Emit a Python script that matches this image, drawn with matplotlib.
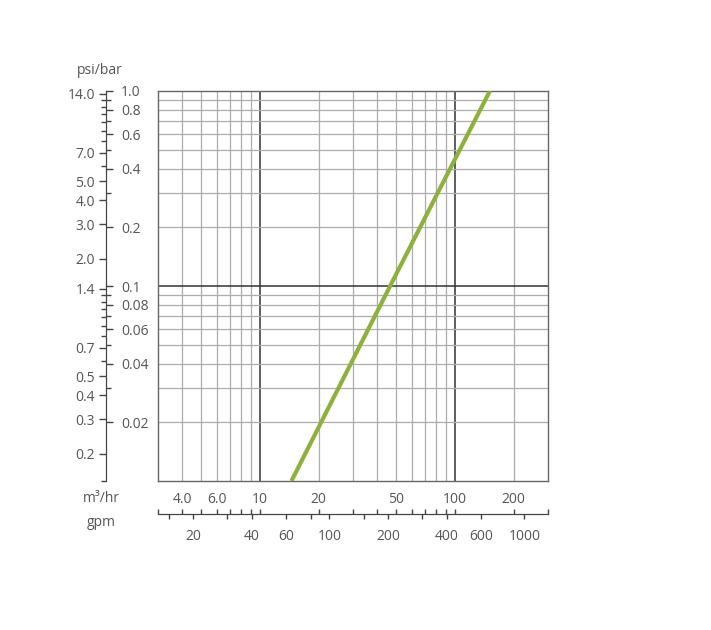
import matplotlib
matplotlib.use("Agg")
import matplotlib.pyplot as plt
from matplotlib.ticker import NullFormatter

plt.rcParams['font.family'] = ['Open Sans', 'DejaVu Sans']

# pressure drop curve (flow in m3/hr, drop in bar)
flow_m3h = [14.5, 46.5, 151]
drop_bar = [0.01, 0.1, 1.0]

# left scale: bar + psi
bar_major = [1.0, 0.8, 0.6, 0.4, 0.2, 0.1, 0.08, 0.06, 0.04, 0.02]
bar_labels = ['1.0', '0.8', '0.6', '0.4', '0.2', '0.1', '0.08', '0.06', '0.04', '0.02']
bar_minor = [0.9, 0.7, 0.5, 0.3, 0.09, 0.07, 0.05, 0.03]
psi_major = [14.0, 7.0, 5.0, 4.0, 3.0, 2.0, 1.4, 0.7, 0.5, 0.4, 0.3, 0.2]
psi_labels = ['14.0', '7.0', '5.0', '4.0', '3.0', '2.0', '1.4', '0.7', '0.5', '0.4', '0.3', '0.2']
psi_minor = [13, 12, 11, 10, 9, 8, 6, 1.3, 1.2, 1.1, 1.0, 0.9, 0.8, 0.6, 0.145]

# bottom scale: m3/hr + gpm
m3h_major = [4.0, 6.0, 10, 20, 50, 100, 200]
m3h_labels = ['4.0', '6.0', '10', '20', '50', '100', '200']
m3h_minor = [3, 5, 7, 8, 9, 30, 40, 60, 70, 80, 90, 300]
gpm_major = [20, 40, 60, 100, 200, 400, 600, 1000]
gpm_labels = ['20', '40', '60', '100', '200', '400', '600', '1000']
gpm_minor = [15, 30, 80, 150, 300]

PSI_PER_BAR = 14.5
GPM_PER_M3H = 4.403

TXT = '#555555'
TICK = '#444444'
GREEN = '#8db13c'
FS = 10

fig = plt.figure(figsize=(7.11, 6.30), dpi=100)
ax = fig.add_axes([158 / 711, 1 - 481 / 630, 390 / 711, 390 / 630])
ax.set_xscale('log')
ax.set_yscale('log')
ax.set_xlim(3, 300)
ax.set_ylim(0.01, 1.0)

# grid
ax.set_xticks([10, 100])
ax.set_xticks([4, 5, 6, 7, 8, 9, 20, 30, 40, 50, 60, 70, 80, 90, 200], minor=True)
ax.set_yticks([0.1])
ax.set_yticks([0.02, 0.03, 0.04, 0.05, 0.06, 0.07, 0.08, 0.09,
               0.2, 0.3, 0.4, 0.5, 0.6, 0.7, 0.8, 0.9], minor=True)
ax.grid(which='major', color='#333333', lw=1.1)
ax.grid(which='minor', color='#adadad', lw=0.9)
ax.tick_params(which='both', length=0, labelbottom=False, labelleft=False)
for s in ax.spines.values():
    s.set_color('#666666')
    s.set_linewidth(1.0)

ax.plot(flow_m3h, drop_bar, color=GREEN, lw=3.0, solid_capstyle='butt', zorder=3)

# left scales
yloc = (106 - 158) / 390
bar_ax = ax.secondary_yaxis(yloc)
bar_ax.set_alignment('right')
bar_ax.set_ticks(bar_major, bar_labels)
bar_ax.set_ticks(bar_minor, minor=True)
bar_ax.tick_params(which='major', length=5, width=1, color=TICK, labelcolor=TXT,
                   labelsize=FS, pad=6)
bar_ax.tick_params(which='minor', length=3.5, width=1, color=TICK)
bar_ax.spines['right'].set_color(TICK)

psi_ax = ax.secondary_yaxis(yloc, functions=(lambda b: b * PSI_PER_BAR,
                                             lambda p: p / PSI_PER_BAR))
psi_ax.set_ticks(psi_major, psi_labels)
psi_ax.set_ticks(psi_minor, minor=True)
psi_ax.yaxis.set_minor_formatter(NullFormatter())
psi_ax.tick_params(which='major', length=5, width=1, color=TICK, labelcolor=TXT,
                   labelsize=FS, pad=3)
psi_ax.tick_params(which='minor', length=3.5, width=1, color=TICK)
psi_ax.spines['left'].set_color(TICK)

# bottom scales
xloc = (481 - 514) / 390
m3_ax = ax.secondary_xaxis(xloc)
m3_ax.set_alignment('top')
m3_ax.set_ticks(m3h_major, m3h_labels)
m3_ax.set_ticks(m3h_minor, minor=True)
m3_ax.xaxis.set_minor_formatter(NullFormatter())
m3_ax.tick_params(which='major', length=3.5, width=1, color=TICK, labelcolor=TXT,
                  labelsize=FS, pad=1.5)
m3_ax.tick_params(which='minor', length=3.5, width=1, color=TICK)
m3_ax.spines['top'].set_color(TICK)

gpm_ax = ax.secondary_xaxis(xloc, functions=(lambda q: q * GPM_PER_M3H,
                                             lambda g: g / GPM_PER_M3H))
gpm_ax.set_ticks(gpm_major, gpm_labels)
gpm_ax.set_ticks(gpm_minor, minor=True)
gpm_ax.xaxis.set_minor_formatter(NullFormatter())
gpm_ax.tick_params(which='major', length=3.5, width=1, color=TICK, labelcolor=TXT,
                   labelsize=FS, pad=7)
gpm_ax.tick_params(which='minor', length=3.5, width=1, color=TICK)
gpm_ax.spines['bottom'].set_color(TICK)

# unit labels
fig.text(100 / 711, 1 - 70 / 630, 'psi/bar', color=TXT, fontsize=FS, ha='center', va='center')
fig.text(101 / 711, 1 - 499 / 630, 'm³/hr', color=TXT, fontsize=FS, ha='center', va='center')
fig.text(101 / 711, 1 - 523 / 630, 'gpm', color=TXT, fontsize=FS, ha='center', va='center')

fig.savefig('out.png', dpi=100)
